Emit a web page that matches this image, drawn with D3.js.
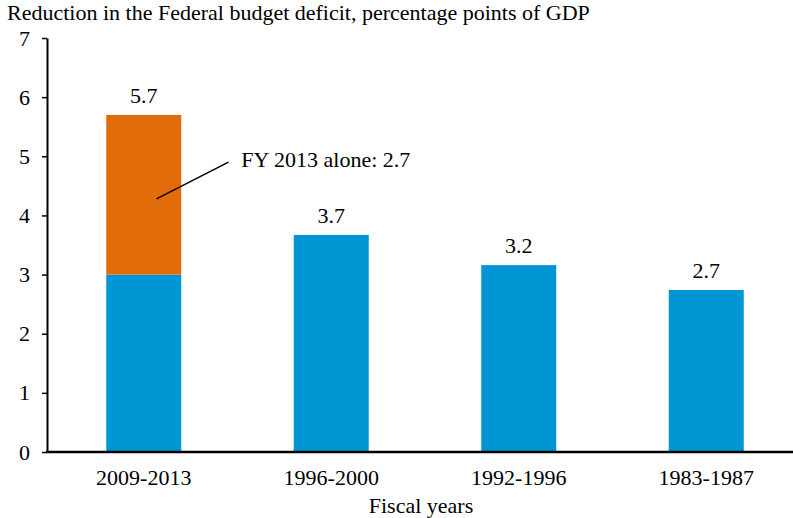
<!DOCTYPE html>
<html>
<head>
<meta charset="utf-8">
<script src="https://cdn.jsdelivr.net/npm/d3@7"></script>
<style>
  body { margin: 0; background: #fff; }
  text { font-family: "Liberation Serif", "Times New Roman", serif; fill: #000; }
</style>
</head>
<body>
<svg id="chart" width="793" height="518"></svg>
<script>
'use strict';

var periods = ['2009-2013', '1996-2000', '1992-1996', '1983-1987'];
var baseValues = [3.0, 3.67, 3.16, 2.74];
var fy2013Values = [2.7, 0, 0, 0];
var totalLabels = ['5.7', '3.7', '3.2', '2.7'];
var yTicks = [0, 1, 2, 3, 4, 5, 6, 7];

var blue = '#0096d6';
var orange = '#e36c0a';
var fontSize = '22px';

var svg = d3.select('#chart');

var x = d3.scaleBand()
    .domain(periods)
    .range([50, 800])
    .paddingInner(0.6)
    .paddingOuter(0.3);

var y = d3.scaleLinear()
    .domain([0, 7])
    .range([452, 38]);

// title
svg.append('text')
    .attr('x', 7)
    .attr('y', 20)
    .style('font-size', fontSize)
    .text('Reduction in the Federal budget deficit, percentage points of GDP');

// bars: blue base, orange FY 2013 on top
svg.append('g').selectAll('rect')
    .data(periods)
  .enter().append('rect')
    .attr('x', function(d) { return x(d); })
    .attr('width', x.bandwidth())
    .attr('y', function(d, i) { return y(baseValues[i]); })
    .attr('height', function(d, i) { return y(0) - y(baseValues[i]); })
    .attr('fill', blue);

svg.append('g').selectAll('rect')
    .data(periods)
  .enter().append('rect')
    .attr('x', function(d) { return x(d); })
    .attr('width', x.bandwidth())
    .attr('y', function(d, i) { return y(baseValues[i] + fy2013Values[i]); })
    .attr('height', function(d, i) { return y(baseValues[i]) - y(baseValues[i] + fy2013Values[i]); })
    .attr('fill', orange);

// value labels
svg.append('g').selectAll('text')
    .data(periods)
  .enter().append('text')
    .attr('x', function(d) { return x(d) + x.bandwidth() / 2; })
    .attr('y', function(d, i) { return y(baseValues[i] + fy2013Values[i]) - 12; })
    .attr('text-anchor', 'middle')
    .style('font-size', fontSize)
    .text(function(d, i) { return totalLabels[i]; });

// annotation
var b0 = x(periods[0]);
svg.append('line')
    .attr('x1', b0 + x.bandwidth() * 0.67)
    .attr('y1', y(4.28))
    .attr('x2', b0 + x.bandwidth() * 1.63)
    .attr('y2', y(4.9))
    .attr('stroke', '#000')
    .attr('stroke-width', 1.5);

svg.append('text')
    .attr('x', b0 + x.bandwidth() * 1.8)
    .attr('y', y(4.9) + 5)
    .style('font-size', fontSize)
    .text('FY 2013 alone: 2.7');

// y axis
var yAxis = svg.append('g')
    .attr('transform', 'translate(47,0)')
    .call(d3.axisLeft(y).tickValues(yTicks).tickFormat(d3.format('d'))
      .tickSize(5).tickPadding(12).tickSizeOuter(0));
yAxis.select('.domain').attr('stroke-width', 2);
yAxis.selectAll('.tick line').attr('stroke-width', 1.5);
yAxis.selectAll('.tick text')
    .style('font-size', fontSize)
    .style('font-family', '"Liberation Serif", serif');

// x axis line
svg.append('line')
    .attr('x1', 46)
    .attr('x2', 793)
    .attr('y1', y(0))
    .attr('y2', y(0))
    .attr('stroke', '#000')
    .attr('stroke-width', 2.5);

// x labels
svg.append('g').selectAll('text')
    .data(periods)
  .enter().append('text')
    .attr('x', function(d) { return x(d) + x.bandwidth() / 2; })
    .attr('y', 485)
    .attr('text-anchor', 'middle')
    .style('font-size', fontSize)
    .text(function(d) { return d; });

svg.append('text')
    .attr('x', 421)
    .attr('y', 513)
    .attr('text-anchor', 'middle')
    .style('font-size', fontSize)
    .text('Fiscal years');
</script>
</body>
</html>
